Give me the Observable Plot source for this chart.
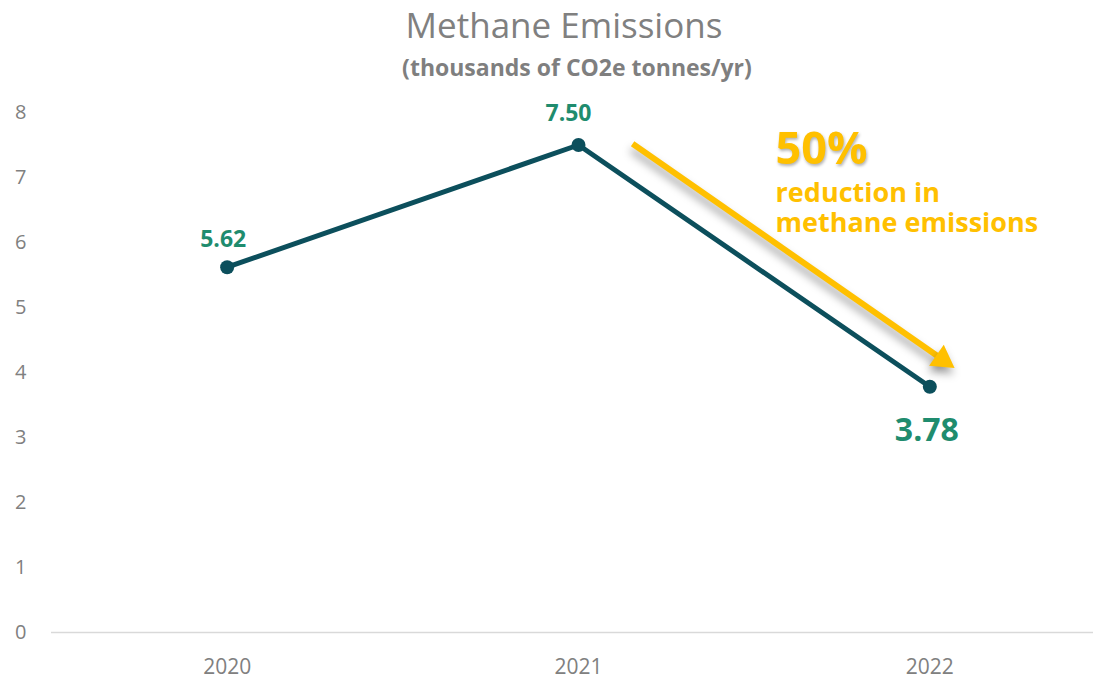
<!DOCTYPE html>
<html>
<head>
<meta charset="utf-8">
<script src="https://cdn.jsdelivr.net/npm/d3@7"></script>
<script src="https://cdn.jsdelivr.net/npm/@observablehq/plot@0.6"></script>
<style>
  html, body { margin: 0; padding: 0; background: #fff; overflow: hidden; }
  #wrap { position: relative; width: 1093px; height: 680px; font-family: "Open Sans", sans-serif; }
  #title { position: absolute; left: 0; top: 0; width: 1128px; text-align: center; font-size: 35px; line-height: 50px; color: #808080; font-weight: 400; }
  #subtitle { position: absolute; left: 0; top: 52px; width: 1154px; text-align: center; font-size: 23px; line-height: 30px; color: #7f7f7f; font-weight: 700; }
  #chart { position: absolute; left: 0; top: 0; }
</style>
</head>
<body>
<div id="wrap">
  <div id="chart"></div>
  <div id="title">Methane Emissions</div>
  <div id="subtitle">(thousands of CO2e tonnes/yr)</div>
</div>
<script>
// Data
const years = [2020, 2021, 2022];
const values = [5.62, 7.50, 3.78];
const yTicks = [0, 1, 2, 3, 4, 5, 6, 7, 8];

// Annotation (in data units)
const arrowTail = {x: 2021.154, y: 7.52};
const arrowHead = {x: 2022.036, y: 4.20};
const pctText = "50%";
const noteLines = ["reduction in", "methane emissions"];
const pctAnchor = {x: 2021.561, y: 7.43};
const noteAnchors = [{x: 2021.561, y: 6.76}, {x: 2021.561, y: 6.30}];

const data = years.map((year, i) => ({year, value: values[i]}));
const notes = noteLines.map((text, i) => ({text, ...noteAnchors[i]}));

const lineColor = "#0c4f5c";
const labelColor = "#1f8c6e";
const yellow = "#FFC000";

const chart = Plot.plot({
  width: 1093,
  height: 680,
  marginLeft: 51,
  marginRight: -12,
  marginTop: 112,
  marginBottom: 48,
  x: {type: "linear", domain: [2019.5, 2022.5]},
  y: {domain: [0, 8]},
  style: {fontFamily: "Open Sans, sans-serif", background: "transparent", overflow: "hidden"},
  marks: [
    Plot.ruleY([0], {stroke: "#d9d9d9", strokeWidth: 1.5}),
    Plot.axisY({ticks: yTicks, tickSize: 0, tickPadding: 25, fontSize: 20, color: "#808080", label: null}),
    Plot.axisX({ticks: years, tickSize: 0, tickPadding: 27, fontSize: 21, color: "#808080", label: null, tickFormat: d => String(d)}),
    Plot.line(data, {x: "year", y: "value", stroke: lineColor, strokeWidth: 5}),
    Plot.dot(data, {x: "year", y: "value", r: 7, fill: lineColor}),
    Plot.text(data.slice(0, 1), {x: "year", y: "value", text: d => d.value.toFixed(2), dx: -4, dy: -28, fontSize: 23, fontWeight: 700, fill: labelColor}),
    Plot.text(data.slice(1, 2), {x: "year", y: "value", text: d => d.value.toFixed(2), dx: -10, dy: -31, fontSize: 23, fontWeight: 700, fill: labelColor}),
    Plot.text(data.slice(2, 3), {x: "year", y: "value", text: d => d.value.toFixed(2), dx: -3, dy: 44, fontSize: 32, fontWeight: 700, fill: labelColor}),
    Plot.link([arrowTail], {x1: "x", y1: "y", x2: () => arrowHead.x, y2: () => arrowHead.y, stroke: yellow, strokeWidth: 6}),
    Plot.dot([arrowHead], {x: "x", y: "y", symbol: "triangle", r: 9.5, rotate: 125, fill: yellow, stroke: "none"}),
    Plot.text([pctAnchor], {x: "x", y: "y", text: () => pctText, textAnchor: "start", lineAnchor: "middle", fontSize: 45, fontWeight: 700, fill: yellow}),
    Plot.text(notes, {x: "x", y: "y", text: "text", textAnchor: "start", lineAnchor: "middle", fontSize: 27, fontWeight: 700, fill: yellow})
  ]
});

const svg = d3.select(chart);
const shadow = "drop-shadow(-1px 6px 4px rgba(0,0,0,0.35))";
svg.selectAll('g[aria-label="link"]').style("filter", shadow);
const dotGroups = svg.selectAll('g[aria-label="dot"]').nodes();
if (dotGroups.length) d3.select(dotGroups[dotGroups.length - 1]).style("filter", shadow);
svg.selectAll('g[aria-label="text"]').filter(function() { return this.textContent === pctText; })
  .style("filter", "drop-shadow(1px 2px 1.5px rgba(0,0,0,0.3))");

document.getElementById("chart").appendChild(chart);
</script>
</body>
</html>
